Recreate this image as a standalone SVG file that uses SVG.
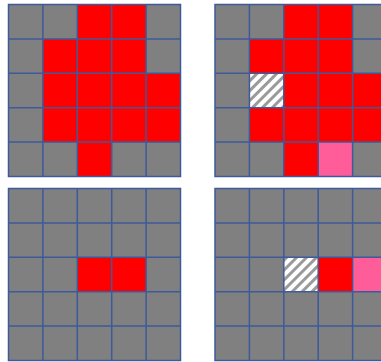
<svg xmlns="http://www.w3.org/2000/svg" width="381" height="362" viewBox="0 0 381 362">
<defs>
<pattern id="hatch" patternUnits="userSpaceOnUse" width="7" height="7" patternTransform="rotate(45)">
<rect width="7" height="7" fill="#ffffff"/>
<rect width="3" height="7" fill="#9a9a9a"/>
</pattern>
</defs>
<style>
.bg{fill:#808080}
.r{fill:#ff0000}
.p{fill:#ff5c9a}
.h{fill:url(#hatch)}
.ln{stroke:#3d5a9a;stroke-width:1.5;fill:none}
</style>
<rect width="381" height="362" fill="#ffffff"/>
<g id="grid-top-left" transform="translate(8.5,4.5)">
<rect class="bg" width="172" height="172"/>
<rect class="r" x="68.8" y="0" width="68.8" height="34.4"/>
<rect class="r" x="34.4" y="34.4" width="103.2" height="34.4"/>
<rect class="r" x="34.4" y="68.8" width="137.6" height="68.8"/>
<rect class="r" x="68.8" y="137.6" width="34.4" height="34.4"/>
<path class="ln" d="M0 0H172V172H0Z M34.4 0V172 M68.8 0V172 M103.2 0V172 M137.6 0V172 M0 34.4H172 M0 68.8H172 M0 103.2H172 M0 137.6H172"/>
</g>
<g id="grid-top-right" transform="translate(215,4.5)">
<rect class="bg" width="172" height="172"/>
<rect class="r" x="68.8" y="0" width="68.8" height="34.4"/>
<rect class="r" x="34.4" y="34.4" width="103.2" height="34.4"/>
<rect class="h" x="34.4" y="68.8" width="34.4" height="34.4"/>
<rect class="r" x="68.8" y="68.8" width="103.2" height="34.4"/>
<rect class="r" x="34.4" y="103.2" width="137.6" height="34.4"/>
<rect class="r" x="68.8" y="137.6" width="34.4" height="34.4"/>
<rect class="p" x="103.2" y="137.6" width="34.4" height="34.4"/>
<path class="ln" d="M0 0H172V172H0Z M34.4 0V172 M68.8 0V172 M103.2 0V172 M137.6 0V172 M0 34.4H172 M0 68.8H172 M0 103.2H172 M0 137.6H172"/>
</g>
<g id="grid-bottom-left" transform="translate(8.5,188.5)">
<rect class="bg" width="172" height="172"/>
<rect class="r" x="68.8" y="68.8" width="68.8" height="34.4"/>
<path class="ln" d="M0 0H172V172H0Z M34.4 0V172 M68.8 0V172 M103.2 0V172 M137.6 0V172 M0 34.4H172 M0 68.8H172 M0 103.2H172 M0 137.6H172"/>
</g>
<g id="grid-bottom-right" transform="translate(215,188.5)">
<rect class="bg" width="172" height="172"/>
<rect class="h" x="68.8" y="68.8" width="34.4" height="34.4"/>
<rect class="r" x="103.2" y="68.8" width="34.4" height="34.4"/>
<rect class="p" x="137.6" y="68.8" width="34.4" height="34.4"/>
<path class="ln" d="M0 0H172V172H0Z M34.4 0V172 M68.8 0V172 M103.2 0V172 M137.6 0V172 M0 34.4H172 M0 68.8H172 M0 103.2H172 M0 137.6H172"/>
</g>
<g id="connectors"/>
</svg>
